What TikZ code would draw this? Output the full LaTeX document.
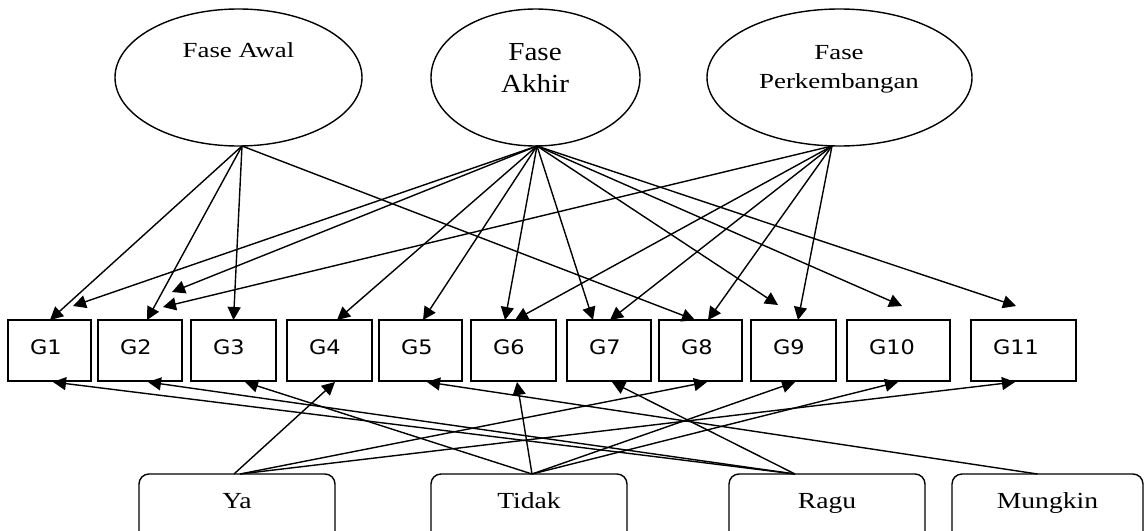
\documentclass[tikz,border=0pt]{standalone}
\usepackage{fontspec}
\setmainfont{Liberation Serif}
\newfontfamily\gfont[FakeStretch=1.12]{DejaVu Sans}
\newfontfamily\fsmall[FakeStretch=1.25]{Liberation Serif}
\newfontfamily\fbig[FakeStretch=1.12]{Liberation Serif}
\newfontfamily\fbot[FakeStretch=1.2]{Liberation Serif}
\usetikzlibrary{shapes.geometric,arrows.meta}
\begin{document}
\begin{tikzpicture}[x=1pt,y=-1pt,
  phase/.style={draw, ellipse, inner sep=0pt, outer sep=0pt, line width=1.4pt},
  ptxt/.style={anchor=base, inner sep=0pt, font=\fsmall\fontsize{21.5}{26}\selectfont},
  ptxtb/.style={anchor=base, inner sep=0pt, font=\fbig\fontsize{26}{30}\selectfont},
  gbox/.style={draw, rectangle, anchor=north west, inner xsep=22pt, inner ysep=0pt, outer sep=0pt,
    align=left, text height=34.3pt, text depth=26.7pt,
    font=\gfont\fontsize{20}{24}\selectfont, line width=1.6pt},
  abox/.style={draw, rectangle, rounded corners=10pt, anchor=north, inner xsep=0pt, inner ysep=0pt,
    outer sep=0pt, text height=34.6pt, text depth=42pt,
    font=\fbot\fontsize{23}{27}\selectfont, line width=1.4pt},
  arr/.style={-{Triangle[length=13pt,width=13pt]}, line width=1.4pt}
]
\path[use as bounding box] (0,0) rectangle (1145,530);
\clip (0,0) rectangle (1145,530);

% phase ellipses
\node[phase, minimum width=247pt, minimum height=137pt] (awal) at (238.5,77.5) {};
\node[phase, minimum width=209pt, minimum height=137pt] (akhir) at (535.5,77.5) {};
\node[phase, minimum width=265pt, minimum height=137pt] (perk) at (839.5,77.5) {};
\node[ptxt] (awalT) at (238.5,57) {Fase Awal};
\node[ptxtb] (akhirT1) at (535,60.6) {Fase};
\node[ptxtb] (akhirT2) at (535,92.6) {Akhir};
\node[ptxt] (perkT1) at (839,59) {Fase};
\node[ptxt] (perkT2) at (839,88) {Perkembangan};

% G boxes
\node[gbox, text width=39pt] (G1) at (8,320) {G1};
\node[gbox, text width=40pt] (G2) at (98,320) {G2};
\node[gbox, text width=41pt] (G3) at (191,320) {G3};
\node[gbox, text width=41pt] (G4) at (287,320) {G4};
\node[gbox, text width=39pt] (G5) at (379,320) {G5};
\node[gbox, text width=41pt] (G6) at (471,320) {G6};
\node[gbox, text width=40pt] (G7) at (567,320) {G7};
\node[gbox, text width=39pt] (G8) at (659,320) {G8};
\node[gbox, text width=41pt] (G9) at (751,320) {G9};
\node[gbox, text width=59pt] (G10) at (847,320) {G10};
\node[gbox, text width=61pt] (G11) at (971,320) {G11};

% answer boxes
\node[abox, minimum width=196pt] (ya) at (237,474) {Ya};
\node[abox, minimum width=196pt] (tidak) at (529,474) {Tidak};
\node[abox, minimum width=196pt] (ragu) at (827,474) {Ragu};
\node[abox, minimum width=191pt] (mungkin) at (1047.5,474) {Mungkin};

% Fase Awal
\draw[arr] ([xshift=3.5pt]awal.south) -- ([xshift=0.5pt]G1.north);
\draw[arr] ([xshift=3.5pt]awal.south) -- ([xshift=7pt]G2.north);
\draw[arr] ([xshift=3.5pt]awal.south) -- (G3.north);
\draw[arr] ([xshift=3.5pt]awal.south) -- ([xshift=-5.5pt]G8.north);

% Fase Akhir
\draw[arr] ([xshift=1.5pt]akhir.south) -- ([xshift=23.5pt,yshift=14pt]G1.north);
\draw[arr] ([xshift=1.5pt]akhir.south) -- ([xshift=32pt,yshift=28pt]G2.north);
\draw[arr] ([xshift=1.5pt]akhir.south) -- ([xshift=7.5pt]G4.north);
\draw[arr] ([xshift=1.5pt]akhir.south) -- ([xshift=2.5pt]G5.north);
\draw[arr] ([xshift=1.5pt]akhir.south) -- ([xshift=-8.5pt]G6.north);
\draw[arr] ([xshift=1.5pt]akhir.south) -- ([xshift=-16pt]G7.north);
\draw[arr] ([xshift=1.5pt]akhir.south) -- ([xshift=-15.5pt,yshift=15pt]G9.north);
\draw[arr] ([xshift=1.5pt]akhir.south) -- ([xshift=3.5pt,yshift=14pt]G10.north);
\draw[arr] ([xshift=1.5pt]akhir.south) -- ([xshift=-7.5pt,yshift=14pt]G11.north);

% Fase Perkembangan
\draw[arr] ([xshift=-7.5pt]perk.south) -- ([xshift=23pt,yshift=13pt]G2.north);
\draw[arr] ([xshift=-7.5pt]perk.south) -- ([xshift=1.5pt]G6.north);
\draw[arr] ([xshift=-7.5pt]perk.south) -- ([xshift=1pt]G7.north);
\draw[arr] ([xshift=-7.5pt]perk.south) -- ([xshift=7.5pt]G8.north);
\draw[arr] ([xshift=-7.5pt]perk.south) -- ([xshift=4.5pt]G9.north);

% Ya
\draw[arr] ([xshift=-3pt]ya.north) -- ([xshift=5.5pt,yshift=-1pt]G4.south);
\draw[arr] ([xshift=3pt]ya.north) -- ([xshift=6.5pt,yshift=-1pt]G8.south);
\draw[arr] ([xshift=3pt]ya.north) -- ([xshift=-8.5pt,yshift=-1pt]G11.south);

% Tidak
\draw[arr] ([xshift=3pt]tidak.north) -- ([xshift=11.5pt,yshift=-1pt]G3.south);
\draw[arr] ([xshift=3pt]tidak.north) -- ([xshift=3.5pt,yshift=-1pt]G6.south);
\draw[arr] ([xshift=3pt]tidak.north) -- ([xshift=1.5pt,yshift=-1pt]G9.south);
\draw[arr] ([xshift=3pt]tidak.north) -- ([xshift=-0.5pt,yshift=-1pt]G10.south);

% Ragu
\draw[arr] ([xshift=-32pt]ragu.north) -- ([xshift=3.5pt,yshift=-1pt]G1.south);
\draw[arr] ([xshift=-32pt]ragu.north) -- ([xshift=8pt,yshift=-1pt]G2.south);
\draw[arr] ([xshift=-32pt]ragu.north) -- ([xshift=3pt,yshift=-1pt]G7.south);

% Mungkin
\draw[arr] ([xshift=-10pt]mungkin.north) -- ([xshift=6.5pt,yshift=-1pt]G5.south);
\end{tikzpicture}
\end{document}
